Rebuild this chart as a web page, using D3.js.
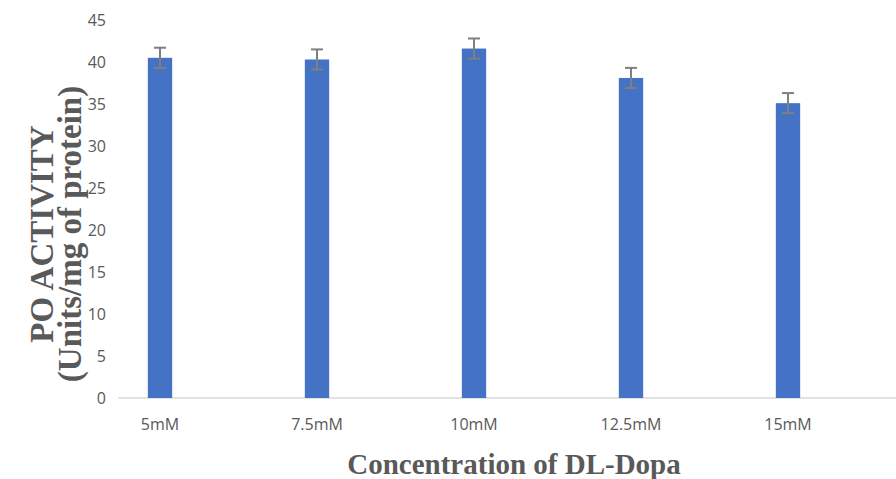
<!DOCTYPE html>
<html><head><meta charset="utf-8">
<script src="https://cdn.jsdelivr.net/npm/d3@7"></script>
<style>body{margin:0;background:#fff}svg{display:block}</style>
</head><body>
<script>
const categories = ["5mM","7.5mM","10mM","12.5mM","15mM"];
const values = [40.5, 40.3, 41.6, 38.1, 35.1];
const errors = [1.2, 1.2, 1.2, 1.2, 1.2];
const yTicks = [0,5,10,15,20,25,30,35,40,45];

const W=896,H=479;
const svg=d3.select("body").append("svg").attr("width",W).attr("height",H);
const x=d3.scaleBand().domain(categories).range([81.5,866.5]).paddingInner(0.845).paddingOuter(0.4225);
const y=d3.scaleLinear().domain([0,45]).range([398,20]);

// axis baseline
svg.append("line").attr("x1",118).attr("x2",896).attr("y1",y(0)).attr("y2",y(0))
  .attr("stroke","#d9d9d9").attr("stroke-width",1.5);

// y tick labels
const ya=svg.append("g").attr("transform","translate(106,0)")
  .call(d3.axisLeft(y).tickValues(yTicks).tickSize(0).tickPadding(0));
ya.select(".domain").remove();
ya.selectAll("text").attr("font-family","'Open Sans', sans-serif").attr("font-size",16).attr("fill","#595959");

// x tick labels
const xa=svg.append("g").attr("transform",`translate(0,${y(0)})`)
  .call(d3.axisBottom(x).tickSize(0).tickPadding(21));
xa.select(".domain").remove();
xa.selectAll("text").attr("font-family","'Open Sans', sans-serif").attr("font-size",16).attr("fill","#595959");

// bars
svg.selectAll("rect.bar").data(values).join("rect").attr("class","bar")
  .attr("x",(d,i)=>x(categories[i])).attr("width",x.bandwidth())
  .attr("y",d=>y(d)).attr("height",d=>y(0)-y(d)).attr("fill","#4472C4");

// error bars
const eg=svg.append("g").attr("stroke","#7f7f7f").attr("stroke-width",2);
values.forEach((v,i)=>{
  const cx=x(categories[i])+x.bandwidth()/2;
  eg.append("line").attr("x1",cx).attr("x2",cx).attr("y1",y(v+errors[i])).attr("y2",y(v-errors[i]));
  eg.append("line").attr("x1",cx-6).attr("x2",cx+6).attr("y1",y(v+errors[i])).attr("y2",y(v+errors[i]));
  eg.append("line").attr("x1",cx-6).attr("x2",cx+6).attr("y1",y(v-errors[i])).attr("y2",y(v-errors[i]));
});

// axis titles
svg.append("text").attr("x",514).attr("y",474).attr("text-anchor","middle")
  .attr("font-family","'Liberation Serif', serif").attr("font-weight","bold").attr("font-size",29)
  .attr("fill","#595959").text("Concentration of DL-Dopa");
const yt=svg.append("text").attr("transform","translate(0,234) rotate(-90)").attr("text-anchor","middle")
  .attr("font-family","'Liberation Serif', serif").attr("font-weight","bold").attr("font-size",33).attr("fill","#595959");
yt.append("tspan").attr("x",0).attr("y",53).text("PO ACTIVITY");
yt.append("tspan").attr("x",0).attr("y",81).text("(Units/mg of protein)");
</script>
</body></html>
